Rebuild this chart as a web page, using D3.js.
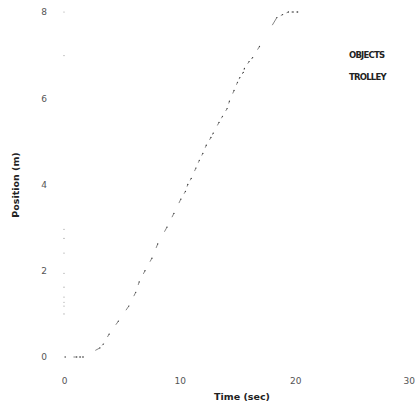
<!DOCTYPE html>
<html>
<head>
<meta charset="utf-8">
<script src="https://cdn.jsdelivr.net/npm/d3@7"></script>
<style>
  body { margin: 0; background: #fff; }
  svg { display: block; }
  .tick text { font-family: "DejaVu Sans", sans-serif; font-size: 9px; fill: #555; }
  .ttl { font-family: "DejaVu Sans", sans-serif; font-weight: bold; fill: #222; }
</style>
</head>
<body>
<div class="canvas"></div>
<script>
// trolley position (time s, position m)
var timeSec = [0.1, 1.1, 1.4, 1.65, 3.1, 3.4, 3.9, 4.7, 5.6, 6.2, 6.5, 7.0, 7.6, 8.1, 8.9, 9.5, 10.1, 10.5, 10.7, 11.0,
  11.4, 11.7, 12.0, 12.3, 12.7, 12.9, 13.4, 13.7, 14.1, 14.3, 14.7, 15.0, 15.2, 15.5, 15.6, 16.0, 16.3, 16.9,
  18.4, 18.9, 19.4, 19.8, 20.2];
var posM = [0, 0, 0, 0, 0.21, 0.30, 0.53, 0.83, 1.18, 1.50, 1.74, 2.0, 2.29, 2.62, 3.01, 3.33, 3.66, 3.84, 4.00, 4.14,
  4.38, 4.56, 4.72, 4.91, 5.09, 5.19, 5.44, 5.58, 5.76, 5.93, 6.18, 6.37, 6.48, 6.60, 6.69, 6.85, 6.94, 7.20,
  7.87, 7.94, 8.0, 8.0, 8.0];
// faint specks along t=0
var specksPos = [8.0, 6.99, 2.96, 2.75, 2.41, 1.94, 1.62, 1.39, 1.27, 1.18, 1.0];
var xTicks = [0, 10, 20, 30];
var yTicks = [0, 2, 4, 6, 8];
var legendLabels = ["OBJECTS", "TROLLEY"];

var width = 415, height = 408;
var svg = d3.select(".canvas").append("svg")
  .attr("width", width).attr("height", height);

var x = d3.scaleLinear().domain([0, 30]).range([64, 411]);
var y = d3.scaleLinear().domain([0, 8]).range([357, 12]);

var data = timeSec.map(function(t, i) { return [t, posM[i]]; });

// y axis labels only
var ay = svg.append("g").attr("transform", "translate(64,0)")
  .call(d3.axisLeft(y).tickValues(yTicks).tickSize(0).tickPadding(17).tickFormat(d3.format("d")));
ay.select(".domain").remove();

var ax = svg.append("g").attr("transform", "translate(0,357)")
  .call(d3.axisBottom(x).tickValues(xTicks).tickSize(0).tickPadding(21).tickFormat(d3.format("d")));
ax.select(".domain").remove();
// last label sits against the right edge
ax.selectAll(".tick").filter(function(d) { return d === 30; }).select("text")
  .attr("text-anchor", "end").attr("dx", "3.5");

// specks
svg.selectAll("circle.speck").data(specksPos).enter().append("circle")
  .attr("class", "speck")
  .attr("cx", x(0)).attr("cy", function(d) { return y(d); })
  .attr("r", 0.6).attr("fill", "#999");

// trolley marks: short dashes along the track
svg.selectAll("line.mk").data(data).enter().append("line")
  .attr("class", "mk")
  .attr("x1", function(d, i) {
    var p = data[Math.max(0, i - 1)];
    return x(d[0]) - (x(d[0]) - x(p[0])) * 0.25;
  })
  .attr("y1", function(d, i) {
    var p = data[Math.max(0, i - 1)];
    return y(d[1]) - (y(d[1]) - y(p[1])) * 0.25;
  })
  .attr("x2", function(d) { return x(d[0]); })
  .attr("y2", function(d) { return y(d[1]); })
  .attr("stroke", "#666").attr("stroke-width", 0.8).attr("stroke-linecap", "round");

svg.selectAll("circle.pt").data(data).enter().append("circle")
  .attr("class", "pt")
  .attr("cx", function(d) { return x(d[0]); })
  .attr("cy", function(d) { return y(d[1]); })
  .attr("r", 0.65).attr("fill", "#444");

// axis titles
svg.append("text").attr("class", "ttl")
  .attr("x", 242).attr("y", 400).attr("text-anchor", "middle")
  .attr("font-size", "9.5px").text("Time  (sec)");
svg.append("text").attr("class", "ttl")
  .attr("transform", "translate(19,185) rotate(-90)").attr("text-anchor", "middle")
  .attr("font-size", "9.5px").text("Position  (m)");

// legend
svg.selectAll("text.leg").data(legendLabels).enter().append("text")
  .attr("class", "ttl leg")
  .attr("x", 349).attr("y", function(d, i) { return 58 + i * 22; })
  .attr("font-size", "8.5px").attr("letter-spacing", "-0.8")
  .text(function(d) { return d; });
</script>
</body>
</html>
